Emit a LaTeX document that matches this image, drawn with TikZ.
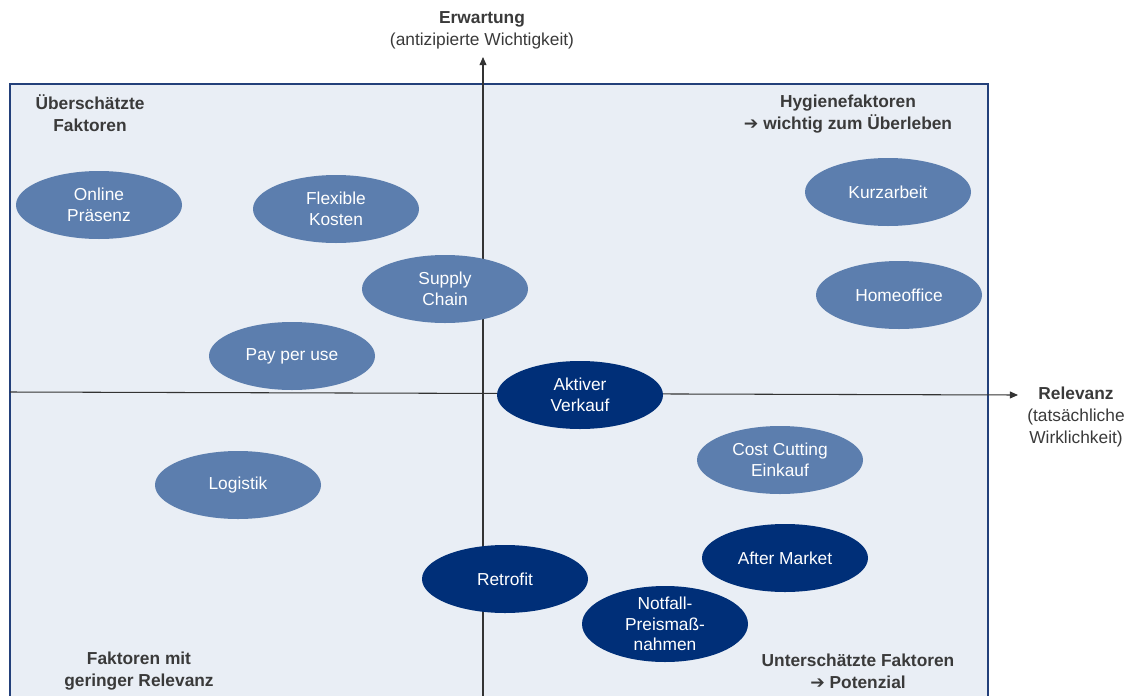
\documentclass[tikz,border=0pt]{standalone}
\usepackage{fontspec}
\setmainfont{Liberation Sans}
\newfontfamily\dejavu{DejaVu Sans}
\usetikzlibrary{arrows.meta,shapes.geometric}
\definecolor{bgfill}{HTML}{E9EEF5}
\definecolor{frame}{HTML}{23407A}
\definecolor{lightblob}{HTML}{5C7EAE}
\definecolor{darkblob}{HTML}{002F78}
\definecolor{labeltxt}{HTML}{3A3A3A}
\begin{document}
\begin{tikzpicture}[x=0.03cm,y=-0.03cm,
  blob/.style={ellipse,minimum width=166*0.03cm,minimum height=68*0.03cm,inner sep=0pt,
    text=white,align=center,font=\fontsize{14.8}{17.5}\selectfont},
  lblob/.style={blob,fill=lightblob},
  dblob/.style={blob,fill=darkblob},
  qlabel/.style={text=labeltxt,align=center,font=\fontsize{14.8}{18.5}\selectfont\bfseries},
  axlabel/.style={text=labeltxt,align=center,font=\fontsize{14.8}{18.5}\selectfont},
  axis/.style={draw=black!80,line width=0.9pt,-{Triangle[length=7pt,width=6pt]}}]
\useasboundingbox (0,0) rectangle (1141,695);
\fill[bgfill] (10,84) rectangle (988,700);
\draw[frame,line width=1pt] (10,700) -- (10,84) -- (988,84) -- (988,700);
% axes
\coordinate (xs) at (10,392);
\coordinate (xe) at (1018,395);
\coordinate (ys) at (483,700);
\coordinate (ye) at (483,57);
\draw[axis] (xs) -- (xe);
\draw[axis] (ys) -- (ye);
% axis labels
\node[axlabel] (ylab) at (482,30) {\textbf{Erwartung}\\(antizipierte Wichtigkeit)};
\node[axlabel] (xlab) at (1076,417) {\textbf{Relevanz}\\(tatsächliche\\Wirklichkeit)};
% quadrant labels
\node[qlabel] (q1) at (90,113) {Überschätzte\\Faktoren};
\node[qlabel] (q2) at (848,114) {Hygienefaktoren\\{\dejavu\bfseries ➔} wichtig zum Überleben};
\node[qlabel] (q3) at (139,671) {Faktoren mit\\geringer Relevanz};
\node[qlabel] (q4) at (858,671) {Unterschätzte Faktoren\\{\dejavu\bfseries ➔} Potenzial};
% blobs
\node[lblob] (online) at (99,205) {Online\\Präsenz};
\node[lblob] (flex) at (336,209) {Flexible\\Kosten};
\node[lblob] (supply) at (445,289) {Supply\\Chain};
\node[lblob] (pay) at (292,356) {Pay per use};
\node[lblob] (kurz) at (888,192) {Kurzarbeit};
\node[lblob] (home) at (899,295) {Homeoffice};
\node[dblob] (aktiv) at (580,395) {Aktiver\\Verkauf};
\node[lblob] (cost) at (780,460) {Cost Cutting\\Einkauf};
\node[lblob] (logistik) at (238,485) {Logistik};
\node[dblob] (after) at (785,558) {After Market};
\node[dblob] (retro) at (505,579) {Retrofit};
\node[dblob,minimum height=72*0.03cm] (notfall) at (665,624) {Notfall-\\Preismaß-\\nahmen};
\end{tikzpicture}
\end{document}
